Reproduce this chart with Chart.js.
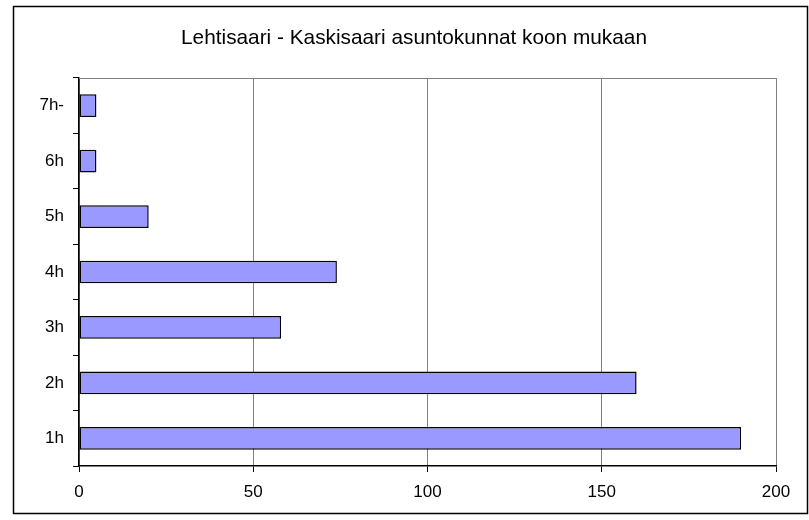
<!DOCTYPE html>
<html>
<head>
<meta charset="utf-8">
<script src="https://cdn.jsdelivr.net/npm/chart.js@4/dist/chart.umd.min.js"></script>
<style>
  html, body { margin: 0; padding: 0; background: #fff; }
  #wrap { width: 809px; height: 520px; }
</style>
</head>
<body>
<div id="wrap"><canvas id="myChart"></canvas></div>
<script>
  const labels = ['1h', '2h', '3h', '4h', '5h', '6h', '7h-'];
  const values = [190, 160, 58, 74, 20, 5, 5];
  const xTicks = [0, 50, 100, 150, 200];
  const title = 'Lehtisaari - Kaskisaari asuntokunnat koon mukaan';

  Chart.defaults.font.family = '"Liberation Sans", Arial, sans-serif';
  Chart.defaults.color = '#000';

  // outer frame, title centred on the frame, grey top border of the plot
  const frame = {
    id: 'frame',
    beforeDraw(chart) {
      const c = chart.ctx;
      c.save();
      c.fillStyle = '#fff';
      c.fillRect(0, 0, chart.width, chart.height);
      c.restore();
    },
    afterDraw(chart) {
      const c = chart.ctx;
      const a = chart.chartArea;
      c.save();
      c.strokeStyle = '#808080';
      c.lineWidth = 1;
      c.beginPath();
      c.moveTo(a.left, a.top + 0.5);
      c.lineTo(a.right, a.top + 0.5);
      c.stroke();
      c.strokeStyle = '#000';
      c.lineWidth = 1.5;
      c.strokeRect(13.5, 6.5, 794, 507);
      c.fillStyle = '#000';
      c.font = '20.8px "Liberation Sans", Arial, sans-serif';
      c.textAlign = 'center';
      c.textBaseline = 'middle';
      c.fillText(title, 414, 38);
      c.restore();
    }
  };

  const data = {
    labels: labels,
    datasets: [{
      label: 'asuntokunnat',
      data: values,
      backgroundColor: '#9999ff',
      borderColor: '#000',
      borderWidth: 1.5,
      borderSkipped: false,
      barPercentage: 0.41,
      categoryPercentage: 1.0
    }]
  };

  const config = {
    type: 'bar',
    data: data,
    options: {
      indexAxis: 'y',
      responsive: true,
      maintainAspectRatio: false,
      animation: false,
      layout: { padding: { top: 78, right: 33, left: 0, bottom: 0 } },
      plugins: {
        legend: { display: false },
        tooltip: { enabled: false },
        title: { display: false }
      },
      scales: {
        x: {
          min: 0,
          max: 200,
          afterBuildTicks(scale) {
            scale.ticks = xTicks.map(v => ({ value: v }));
          },
          afterFit(scale) { scale.height = 54; },
          grid: {
            color: '#808080',
            tickColor: '#000',
            tickLength: 6,
            lineWidth: 1
          },
          border: { color: '#000', width: 1.5 },
          ticks: { font: { size: 17 }, padding: 10, color: '#000' }
        },
        y: {
          reverse: true,
          afterFit(scale) { scale.width = 79; },
          grid: {
            drawOnChartArea: false,
            offset: true,
            tickColor: '#000',
            tickLength: 6
          },
          border: { color: '#000', width: 1.5 },
          ticks: { font: { size: 17 }, padding: 9, color: '#000' }
        }
      }
    },
    plugins: [frame]
  };

  const myChart = new Chart(
    document.getElementById('myChart'),
    config
  );
</script>
</body>
</html>
